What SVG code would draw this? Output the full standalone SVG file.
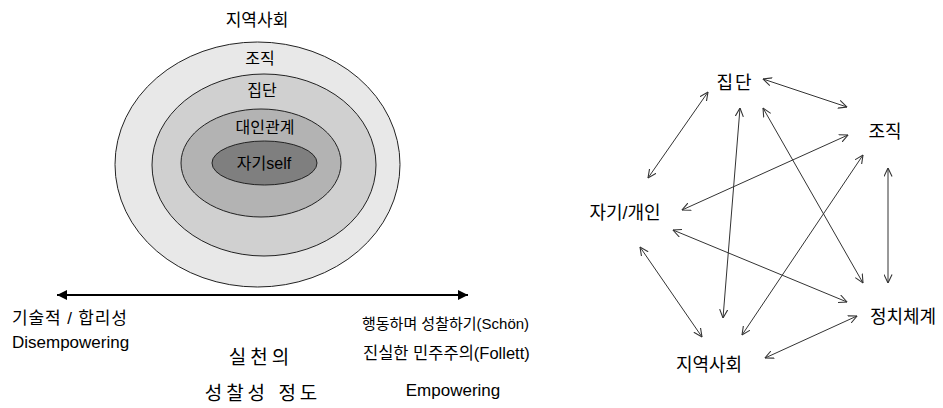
<svg xmlns="http://www.w3.org/2000/svg" width="943" height="408" viewBox="0 0 943 408">
<defs>
<marker id="open" viewBox="0 0 10 10" refX="9.5" refY="5" markerWidth="9" markerHeight="9" markerUnits="userSpaceOnUse" orient="auto-start-reverse">
<path d="M0,0.5 L9.5,5 L0,9.5" fill="none" stroke="#333" stroke-width="1.2"/>
</marker>
<marker id="solid" viewBox="0 0 10 10" refX="10" refY="5" markerWidth="11" markerHeight="10" markerUnits="userSpaceOnUse" orient="auto-start-reverse">
<path d="M0,0 L10,5 L0,10 Z" fill="#000"/>
</marker>
</defs>
<style>
text{font-family:"Liberation Sans","Noto Sans CJK KR",sans-serif;fill:#000;text-anchor:middle}
.ring{stroke:#222;stroke-width:1}
.lbl{font-size:16px}
.node{font-size:18px}
.bot{font-size:17px}
.big{font-size:19px;letter-spacing:4px}
.link{stroke:#333;stroke-width:1;fill:none;marker-start:url(#open);marker-end:url(#open)}
</style>
<rect width="943" height="408" fill="#fff"/>

<g id="ellipses">
<ellipse class="ring" cx="257.5" cy="164.5" rx="142.5" ry="122.5" fill="#e8e8e8"/>
<ellipse class="ring" cx="264" cy="165" rx="112" ry="91" fill="#d0d0d0"/>
<ellipse class="ring" cx="261" cy="163" rx="80" ry="54" fill="#b3b3b3"/>
<ellipse class="ring" cx="264.5" cy="163" rx="52.5" ry="22" fill="#7f7f7f"/>
</g>
<g id="ellipse-labels">
<text class="lbl" x="257" y="26" style="font-size:17px">지역사회</text>
<text class="lbl" x="260" y="64">조직</text>
<text class="lbl" x="262" y="96">집단</text>
<text class="lbl" x="265" y="133">대인관계</text>
<text class="lbl" x="264" y="169">자기self</text>
</g>

<g id="axis">
<line x1="57" y1="295" x2="468" y2="295" stroke="#000" stroke-width="2" marker-start="url(#solid)" marker-end="url(#solid)"/>
</g>
<g id="axis-labels">
<text class="bot" x="12" y="324" style="text-anchor:start" textLength="115">기술적 / 합리성</text>
<text class="bot" x="12" y="348" style="text-anchor:start">Disempowering</text>
<text class="big" x="261" y="364">실천의</text>
<text class="big" x="263" y="400">성찰성 정도</text>
<text class="bot" x="362" y="329" style="text-anchor:start;font-size:15px">행동하며 성찰하기(Schön)</text>
<text class="bot" x="363" y="359" style="text-anchor:start;font-size:16.5px">진실한 민주주의(Follett)</text>
<text class="bot" x="453" y="396">Empowering</text>
</g>

<g id="connectors">
<line class="link" x1="763" y1="79" x2="847" y2="107"/>
<line class="link" x1="708" y1="92" x2="648" y2="178"/>
<line class="link" x1="848" y1="135" x2="682" y2="210"/>
<line class="link" x1="740" y1="108" x2="723" y2="318"/>
<line class="link" x1="763" y1="108" x2="863" y2="283"/>
<line class="link" x1="863" y1="155" x2="742" y2="335"/>
<line class="link" x1="888" y1="168" x2="888" y2="283"/>
<line class="link" x1="673" y1="230" x2="847" y2="302"/>
<line class="link" x1="640" y1="247" x2="702" y2="337"/>
<line class="link" x1="765" y1="358" x2="857" y2="316"/>
</g>
<g id="n-group"><text class="node" x="735" y="89" style="letter-spacing:2px">집단</text></g>
<g id="n-org"><text class="node" x="885" y="138">조직</text></g>
<g id="n-self"><text class="node" x="625" y="219">자기/개인</text></g>
<g id="n-polity"><text class="node" x="903" y="323">정치체계</text></g>
<g id="n-community"><text class="node" x="709" y="371">지역사회</text></g>
</svg>
